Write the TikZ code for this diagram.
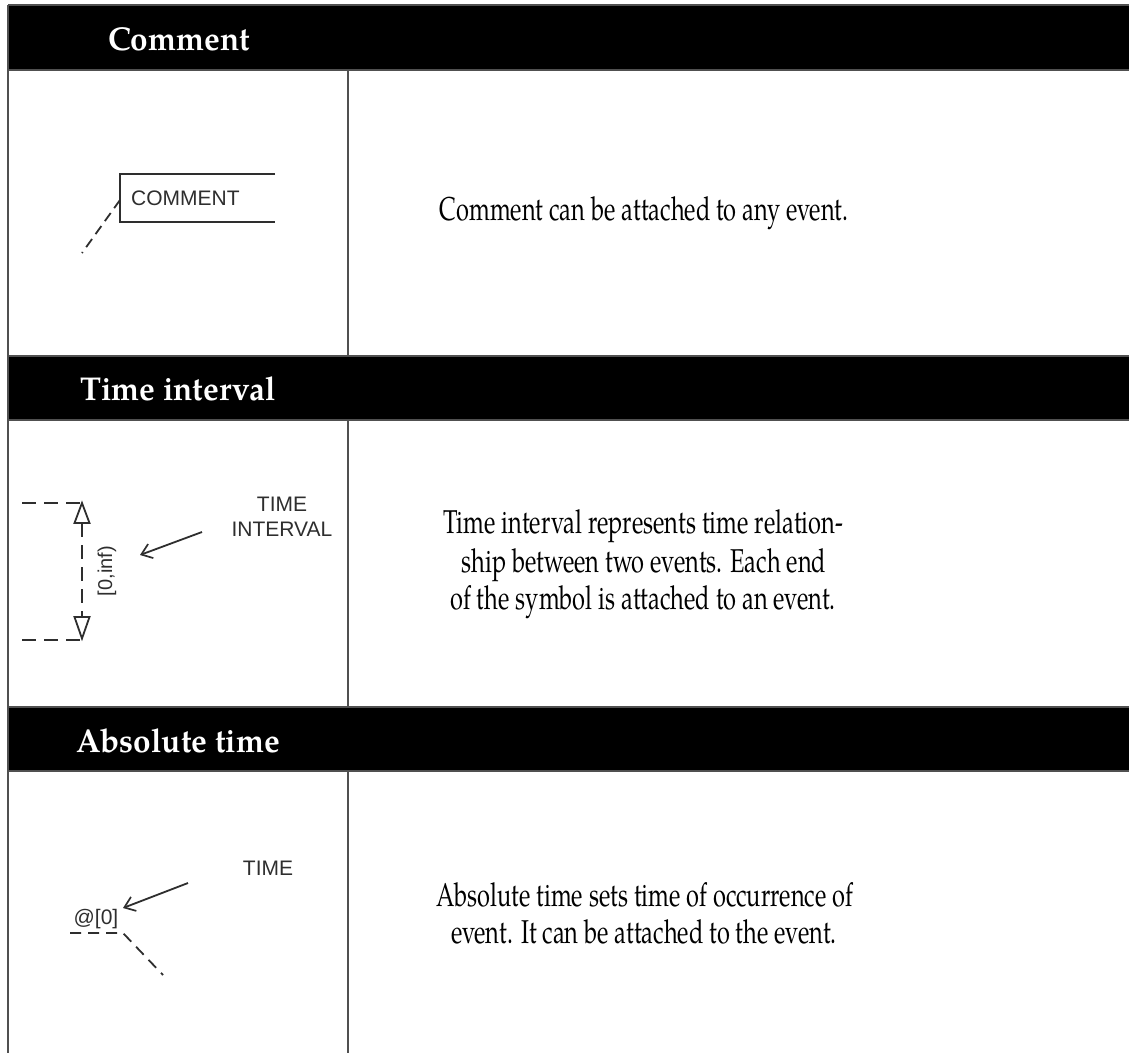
\documentclass[tikz,border=0pt]{standalone}
\usepackage{graphicx}
\usepackage{fontspec}
\setmainfont{TeX Gyre Pagella}
\newfontfamily\symfont{Liberation Sans}
\usetikzlibrary{arrows.meta}
\definecolor{rule}{HTML}{505050}
\definecolor{ink}{HTML}{2e2e2e}
% narrow set text
\newcommand\sqzbody[1]{\scalebox{0.715}[1]{#1}}
\newcommand\sqzhead[1]{\scalebox{0.955}[1]{#1}}
\tikzset{
  head/.style={font=\bfseries\fontsize{33}{40}\selectfont, text=white, inner sep=0pt, anchor=base},
  body/.style={font=\fontsize{33}{38}\selectfont, inner sep=0pt, anchor=base},
  lbl/.style={font=\symfont\fontsize{21}{25}\selectfont, text=ink, inner sep=0pt},
  sym/.style={draw=ink, line width=1.8pt},
  dshA/.style={sym, dash pattern=on 10pt off 6pt},
  dshB/.style={sym, dash pattern=on 14pt off 8pt},
  dshC/.style={sym, dash pattern=on 11pt off 7pt},
  gridline/.style={draw=rule, line width=1.8pt},
  tip/.style={-{Straight Barb[length=10pt,width=15pt,line width=1.7pt]}}
}
\begin{document}
\begin{tikzpicture}[x=1pt,y=-1pt]
\useasboundingbox (0,0) rectangle (1129,1053);

% header bars
\fill[black] (8,5) rectangle (1129,70);
\fill[black] (8,356) rectangle (1129,420);
\fill[black] (8,707) rectangle (1129,771);

% table rules
\draw[gridline] (8,5) -- (1129,5);
\draw[gridline] (8,70) -- (1129,70);
\draw[gridline] (8,356) -- (1129,356);
\draw[gridline] (8,420) -- (1129,420);
\draw[gridline] (8,707) -- (1129,707);
\draw[gridline] (8,771) -- (1129,771);
\draw[gridline] (8,5) -- (8,1053);
\draw[gridline] (348,70) -- (348,356);
\draw[gridline] (348,420) -- (348,707);
\draw[gridline] (348,771) -- (348,1053);

% header titles
\node[head] (h1) at (179,50) {\sqzhead{Comment}};
\node[head] (h2) at (178,400) {\sqzhead{Time interval}};
\node[head] (h3) at (178,752) {\sqzhead{Absolute time}};

% descriptions
\node[body] (d1) at (644,220) {\sqzbody{Comment can be attached to any event.}};
\node[body] (d2a) at (643,533) {\sqzbody{Time interval represents time relation-}};
\node[body] (d2b) at (644,572) {\sqzbody{ship between two events. Each end}};
\node[body] (d2c) at (643,609) {\sqzbody{of the symbol is attached to an event.}};
\node[body] (d3a) at (645,906) {\sqzbody{Absolute time sets time of occurrence of}};
\node[body] (d3b) at (644,943) {\sqzbody{event. It can be attached to the event.}};

% comment symbol
\coordinate (cTR) at (275,174);
\coordinate (cTL) at (120,174);
\coordinate (cBL) at (120,222);
\coordinate (cBR) at (275,222);
\coordinate (cAt) at (120,200);
\coordinate (cEnd) at (82,253);
\draw[sym] (cTR) -- (cTL) -- (cBL) -- (cBR);
\node[lbl, anchor=base west] (cm) at (131,205) {COMMENT};
\draw[dshA] (cAt) -- (cEnd);

% time interval symbol
\coordinate (tTopL) at (22,503);
\coordinate (tTop) at (82,503);
\coordinate (tBotL) at (22,640);
\coordinate (tBot) at (82,640);
\coordinate (tUp) at (82,523);
\coordinate (tDn) at (82,617);
\draw[dshB] (tTopL) -- (tTop);
\draw[dshB] (tBotL) -- (tBot);
\draw[dshB] (tUp) -- (tDn);
\draw[sym, fill=white, line join=miter] (tTop) -- (89.5,523) -- (74.5,523) -- cycle;
\draw[sym, fill=white, line join=miter] (82,638.5) -- (89.5,617) -- (74.5,617) -- cycle;
\node[lbl, rotate=90, font=\symfont\fontsize{20}{24}\selectfont] (rng) at (107,571) {[0,inf)};
\node[lbl, align=center] (ti) at (282,517) {TIME\\INTERVAL};
\coordinate (tiFrom) at (202,532);
\coordinate (tiTo) at (140,555);
\draw[sym, tip] (tiFrom) -- (tiTo);

% absolute time symbol
\node[lbl, anchor=base] (at) at (268,875) {TIME};
\node[lbl, anchor=base] (av) at (96,924) {@[0]};
\coordinate (aFrom) at (188,883);
\coordinate (aTo) at (123,908);
\draw[sym, tip] (aFrom) -- (aTo);
\coordinate (aL) at (70,933);
\coordinate (aK) at (123,933);
\coordinate (aE) at (163,975);
\draw[dshC] (aL) -- (aK) -- (aE);
\end{tikzpicture}
\end{document}
